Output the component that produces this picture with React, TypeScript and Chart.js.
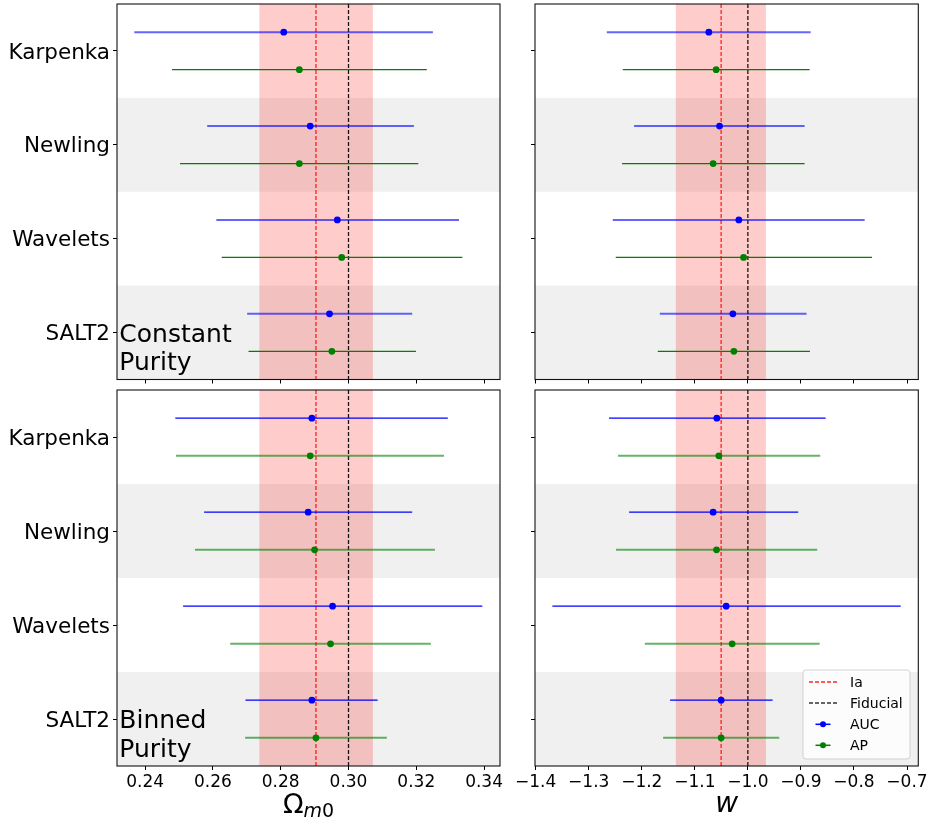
import React, { useEffect, useRef } from 'react';
import { Chart, registerables } from 'chart.js';

Chart.register(...registerables);

const methods = ['Karpenka', 'Newling', 'Wavelets', 'SALT2'];

// Omega_m0 — constant purity
const omConstAuc = [0.2809, 0.2887, 0.2967, 0.2944];
const omConstAucLo = [0.2368, 0.2583, 0.2610, 0.2701];
const omConstAucHi = [0.3249, 0.3193, 0.3326, 0.3188];
const omConstAp = [0.2855, 0.2855, 0.2980, 0.2951];
const omConstApLo = [0.2479, 0.2503, 0.2626, 0.2705];
const omConstApHi = [0.3231, 0.3206, 0.3336, 0.3199];

// Omega_m0 — binned purity
const omBinAuc = [0.2892, 0.2881, 0.2953, 0.2892];
const omBinAucLo = [0.2489, 0.2574, 0.2512, 0.2696];
const omBinAucHi = [0.3293, 0.3188, 0.3395, 0.3086];
const omBinAp = [0.2887, 0.2900, 0.2947, 0.2904];
const omBinApLo = [0.2491, 0.2547, 0.2651, 0.2695];
const omBinApHi = [0.3282, 0.3255, 0.3243, 0.3113];

// w — constant purity
const wConstAuc = [-1.0736, -1.0534, -1.0170, -1.0283];
const wConstAucLo = [-1.2660, -1.2145, -1.2547, -1.1660];
const wConstAucHi = [-0.8817, -0.8930, -0.7798, -0.8893];
const wConstAp = [-1.0598, -1.0655, -1.0081, -1.0264];
const wConstApLo = [-1.2358, -1.2372, -1.2491, -1.1698];
const wConstApHi = [-0.8836, -0.8930, -0.7660, -0.8830];

// w — binned purity
const wBinAuc = [-1.0585, -1.0655, -1.0409, -1.0504];
const wBinAucLo = [-1.2617, -1.2239, -1.3685, -1.1466];
const wBinAucHi = [-0.8534, -0.9051, -0.7119, -0.9534];
const wBinAp = [-1.0547, -1.0591, -1.0296, -1.0504];
const wBinApLo = [-1.2447, -1.2485, -1.1943, -1.1598];
const wBinApHi = [-0.8636, -0.8692, -0.8647, -0.9409];

// reference values
const omIa = 0.2904;
const omIaLo = 0.2737;
const omIaHi = 0.3072;
const omFid = 0.3;
const wIa = -1.0504;
const wIaLo = -1.1358;
const wIaHi = -0.966;
const wFid = -1.0;

const omTicks = [0.24, 0.26, 0.28, 0.30, 0.32, 0.34];
const wTicks = [-1.4, -1.3, -1.2, -1.1, -1.0, -0.9, -0.8, -0.7];
const omRange = [0.2317, 0.3447];
const wRange = [-1.4013, -0.6787];

const legendLabels = ['Ia', 'Fiducial', 'AUC', 'AP'];
const annotConst = ['Constant', 'Purity'];
const annotBin = ['Binned', 'Purity'];

const seriesOffset = 0.2;
const FONT = 'DejaVu Sans';

const BLUE_LIGHT = 'rgba(0,0,255,0.6)';
const GREEN_LIGHT = 'rgba(0,128,0,0.6)';

type Panel = {
  left: number; top: number; width: number; height: number;
  yAxisWidth: number; xAxisHeight: number; padTop: number; padRight: number;
  xRange: number[]; xTicks: number[]; fmt: (v: number) => string;
  showX: boolean; showY: boolean;
  auc: number[]; aucLo: number[]; aucHi: number[];
  ap: number[]; apLo: number[]; apHi: number[];
  aucLight: boolean;
  ia: number; iaLo: number; iaHi: number; fid: number;
  annot?: string[]; title?: 'omega' | 'w'; legend?: boolean;
};

const fmtOm = (v: number) => v.toFixed(2);
const fmtW = (v: number) => v.toFixed(1).replace('-', '\u2212');

const panels: Panel[] = [
  {
    left: 0, top: 0, width: 510, height: 386, yAxisWidth: 117, xAxisHeight: 6.5, padTop: 3.5, padRight: 10,
    xRange: omRange, xTicks: omTicks, fmt: fmtOm, showX: false, showY: true,
    auc: omConstAuc, aucLo: omConstAucLo, aucHi: omConstAucHi,
    ap: omConstAp, apLo: omConstApLo, apHi: omConstApHi, aucLight: true,
    ia: omIa, iaLo: omIaLo, iaHi: omIaHi, fid: omFid, annot: annotConst,
  },
  {
    left: 510, top: 0, width: 421, height: 386, yAxisWidth: 25, xAxisHeight: 6.5, padTop: 3.5, padRight: 12.7,
    xRange: wRange, xTicks: wTicks, fmt: fmtW, showX: false, showY: false,
    auc: wConstAuc, aucLo: wConstAucLo, aucHi: wConstAucHi,
    ap: wConstAp, apLo: wConstApLo, apHi: wConstApHi, aucLight: true,
    ia: wIa, iaLo: wIaLo, iaHi: wIaHi, fid: wFid,
  },
  {
    left: 0, top: 386, width: 510, height: 439, yAxisWidth: 117, xAxisHeight: 59, padTop: 4, padRight: 10,
    xRange: omRange, xTicks: omTicks, fmt: fmtOm, showX: true, showY: true,
    auc: omBinAuc, aucLo: omBinAucLo, aucHi: omBinAucHi,
    ap: omBinAp, apLo: omBinApLo, apHi: omBinApHi, aucLight: false,
    ia: omIa, iaLo: omIaLo, iaHi: omIaHi, fid: omFid, annot: annotBin, title: 'omega',
  },
  {
    left: 510, top: 386, width: 421, height: 439, yAxisWidth: 25, xAxisHeight: 59, padTop: 4, padRight: 12.7,
    xRange: wRange, xTicks: wTicks, fmt: fmtW, showX: true, showY: false,
    auc: wBinAuc, aucLo: wBinAucLo, aucHi: wBinAucHi,
    ap: wBinAp, apLo: wBinApLo, apHi: wBinApHi, aucLight: false,
    ia: wIa, iaLo: wIaLo, iaHi: wIaHi, fid: wFid, title: 'w', legend: true,
  },
];

function makePlugin(p: Panel) {
  return {
    id: 'panelDecor',
    beforeDatasetsDraw(chart: any) {
      const { ctx, chartArea: a, scales } = chart;
      const x = scales.x, y = scales.y;
      ctx.save();
      ctx.beginPath();
      ctx.rect(a.left, a.top, a.width, a.height);
      ctx.clip();
      // alternating bands
      ctx.fillStyle = '#f0f0f0';
      methods.forEach((_, i) => {
        if (i % 2 === 1) {
          const y0 = y.getPixelForValue(i - 0.5);
          const y1 = y.getPixelForValue(i + 0.5);
          ctx.fillRect(a.left, Math.min(y0, y1), a.width, Math.abs(y1 - y0));
        }
      });
      // Ia shaded band
      ctx.fillStyle = 'rgba(255,0,0,0.2)';
      const sx0 = x.getPixelForValue(p.iaLo);
      const sx1 = x.getPixelForValue(p.iaHi);
      ctx.fillRect(sx0, a.top, sx1 - sx0, a.height);
      // dashed lines
      ctx.lineWidth = 1.3;
      ctx.setLineDash([4, 2]);
      ctx.strokeStyle = 'rgba(255,0,0,0.85)';
      let lx = x.getPixelForValue(p.ia);
      ctx.beginPath(); ctx.moveTo(lx, a.top); ctx.lineTo(lx, a.bottom); ctx.stroke();
      ctx.strokeStyle = 'rgba(0,0,0,0.9)';
      lx = x.getPixelForValue(p.fid);
      ctx.beginPath(); ctx.moveTo(lx, a.top); ctx.lineTo(lx, a.bottom); ctx.stroke();
      ctx.setLineDash([]);
      // error bars
      const bars = (lo: number[], hi: number[], off: number, color: string, w: number) => {
        ctx.strokeStyle = color;
        ctx.lineWidth = w;
        methods.forEach((_, i) => {
          const yy = y.getPixelForValue(i + off);
          ctx.beginPath();
          ctx.moveTo(x.getPixelForValue(lo[i]), yy);
          ctx.lineTo(x.getPixelForValue(hi[i]), yy);
          ctx.stroke();
        });
      };
      if (p.aucLight) {
        bars(p.aucLo, p.aucHi, -seriesOffset, BLUE_LIGHT, 2);
        bars(p.apLo, p.apHi, seriesOffset, 'green', 1.2);
      } else {
        bars(p.aucLo, p.aucHi, -seriesOffset, 'blue', 1.2);
        bars(p.apLo, p.apHi, seriesOffset, GREEN_LIGHT, 2);
      }
      ctx.restore();
    },
    afterDatasetsDraw(chart: any) {
      const { ctx, chartArea: a } = chart;
      ctx.save();
      // frame
      ctx.strokeStyle = '#111';
      ctx.lineWidth = 1.1;
      ctx.strokeRect(a.left, a.top, a.width, a.height);
      ctx.fillStyle = '#000';
      // annotation
      if (p.annot) {
        ctx.font = `25px "${FONT}"`;
        ctx.textAlign = 'left';
        ctx.textBaseline = 'alphabetic';
        ctx.fillText(p.annot[0], a.left + 2.3, a.bottom - 37.8);
        ctx.fillText(p.annot[1], a.left + 2.3, a.bottom - 9.4);
      }
      // axis title
      const cx = (a.left + a.right) / 2;
      if (p.title === 'omega') {
        ctx.textBaseline = 'alphabetic';
        ctx.textAlign = 'left';
        const big = `27px "${FONT}"`;
        const smallI = `italic 19px "${FONT}"`;
        const small = `19px "${FONT}"`;
        ctx.font = big; const w1 = ctx.measureText('\u03A9').width;
        ctx.font = smallI; const w2 = ctx.measureText('m').width;
        ctx.font = small; const w3 = ctx.measureText('0').width;
        const start = cx - (w1 + w2 + w3) / 2;
        const base = a.bottom + 47;
        ctx.font = big; ctx.fillText('\u03A9', start, base);
        ctx.font = smallI; ctx.fillText('m', start + w1, base + 4);
        ctx.font = small; ctx.fillText('0', start + w1 + w2, base + 4);
      } else if (p.title === 'w') {
        ctx.font = `italic 28px "${FONT}"`;
        ctx.textAlign = 'center';
        ctx.textBaseline = 'alphabetic';
        ctx.fillText('w', cx, a.bottom + 45.7);
      }
      // legend
      if (p.legend) {
        const bw = 107, bh = 89;
        const bx = a.right - 8.3 - bw;
        const by = a.bottom - 7 - bh;
        ctx.beginPath();
        ctx.roundRect(bx, by, bw, bh, 3);
        ctx.fillStyle = 'rgba(255,255,255,0.8)';
        ctx.fill();
        ctx.strokeStyle = 'rgba(204,204,204,0.9)';
        ctx.lineWidth = 1;
        ctx.stroke();
        const rows = [12, 33, 54.3, 75.3];
        ctx.lineWidth = 1.3;
        ctx.setLineDash([4, 2]);
        ctx.strokeStyle = 'rgba(255,0,0,0.85)';
        ctx.beginPath(); ctx.moveTo(bx + 6, by + rows[0]); ctx.lineTo(bx + 34, by + rows[0]); ctx.stroke();
        ctx.strokeStyle = 'rgba(0,0,0,0.8)';
        ctx.beginPath(); ctx.moveTo(bx + 6, by + rows[1]); ctx.lineTo(bx + 34, by + rows[1]); ctx.stroke();
        ctx.setLineDash([]);
        const handle = (ry: number, line: string, dot: string) => {
          ctx.strokeStyle = line;
          ctx.lineWidth = 1.5;
          ctx.beginPath(); ctx.moveTo(bx + 12.5, by + ry); ctx.lineTo(bx + 27.5, by + ry); ctx.stroke();
          ctx.fillStyle = dot;
          ctx.beginPath(); ctx.arc(bx + 20, by + ry, 3, 0, Math.PI * 2); ctx.fill();
        };
        handle(rows[2], 'blue', 'blue');
        handle(rows[3], 'green', 'green');
        ctx.fillStyle = '#000';
        ctx.font = `14px "${FONT}"`;
        ctx.textAlign = 'left';
        ctx.textBaseline = 'middle';
        legendLabels.forEach((t, i) => ctx.fillText(t, bx + 47, by + rows[i] + 1));
      }
      ctx.restore();
    },
  };
}

const zeroPad = (s: any) => {
  s.paddingTop = 0;
  s.paddingBottom = 0;
  s.paddingLeft = 0;
  s.paddingRight = 0;
};

function PanelChart({ p }: { p: Panel }) {
  const ref = useRef<HTMLCanvasElement | null>(null);
  useEffect(() => {
    if (!ref.current) return;
    const chart = new Chart(ref.current, {
      type: 'scatter',
      data: {
        datasets: [
          {
            label: 'AUC',
            data: p.auc.map((v, i) => ({ x: v, y: i - seriesOffset })),
            backgroundColor: 'blue',
            borderColor: 'blue',
            pointRadius: 3.4,
            pointBorderWidth: 0,
          },
          {
            label: 'AP',
            data: p.ap.map((v, i) => ({ x: v, y: i + seriesOffset })),
            backgroundColor: 'green',
            borderColor: 'green',
            pointRadius: 3.4,
            pointBorderWidth: 0,
          },
        ],
      },
      options: {
        animation: false,
        responsive: false,
        devicePixelRatio: 1,
        layout: { padding: { top: p.padTop, right: p.padRight, left: 0, bottom: 0 } },
        plugins: { legend: { display: false }, tooltip: { enabled: false } },
        scales: {
          x: {
            type: 'linear',
            min: p.xRange[0],
            max: p.xRange[1],
            afterBuildTicks: (s: any) => { s.ticks = p.xTicks.map((v) => ({ value: v })); },
            afterFit: (s: any) => { s.height = p.xAxisHeight; zeroPad(s); },
            ticks: {
              callback: (v: any) => (p.showX ? p.fmt(Number(v)) : ''),
              font: { family: FONT, size: 17 },
              color: '#000',
              padding: 2,
              autoSkip: false,
              maxRotation: 0,
              minRotation: 0,
            },
            grid: { drawOnChartArea: false, drawTicks: true, tickLength: 4, color: '#000', tickColor: '#000', tickWidth: 1 },
            border: { display: false },
          },
          y: {
            type: 'linear',
            min: -0.5,
            max: 3.5,
            reverse: true,
            afterBuildTicks: (s: any) => { s.ticks = methods.map((_, i) => ({ value: i })); },
            afterFit: (s: any) => { s.width = p.yAxisWidth; zeroPad(s); },
            ticks: {
              callback: (v: any) => (p.showY ? methods[Math.round(Number(v))] : ''),
              font: { family: FONT, size: 21.5 },
              color: '#000',
              padding: 3,
              labelOffset: 2,
              autoSkip: false,
            },
            grid: { drawOnChartArea: false, drawTicks: true, tickLength: 4, color: '#000', tickColor: '#000', tickWidth: 1 },
            border: { display: false },
          },
        },
      } as any,
      plugins: [makePlugin(p)],
    });
    return () => chart.destroy();
  }, [p]);
  return (
    <canvas
      ref={ref}
      width={p.width}
      height={p.height}
      style={{ position: 'absolute', left: p.left, top: p.top, width: p.width, height: p.height }}
    />
  );
}

export default function App() {
  return (
    <div style={{ position: 'absolute', left: 0, top: 0, width: 931, height: 825, background: '#fff' }}>
      {panels.map((p, i) => (
        <PanelChart key={i} p={p} />
      ))}
    </div>
  );
}
